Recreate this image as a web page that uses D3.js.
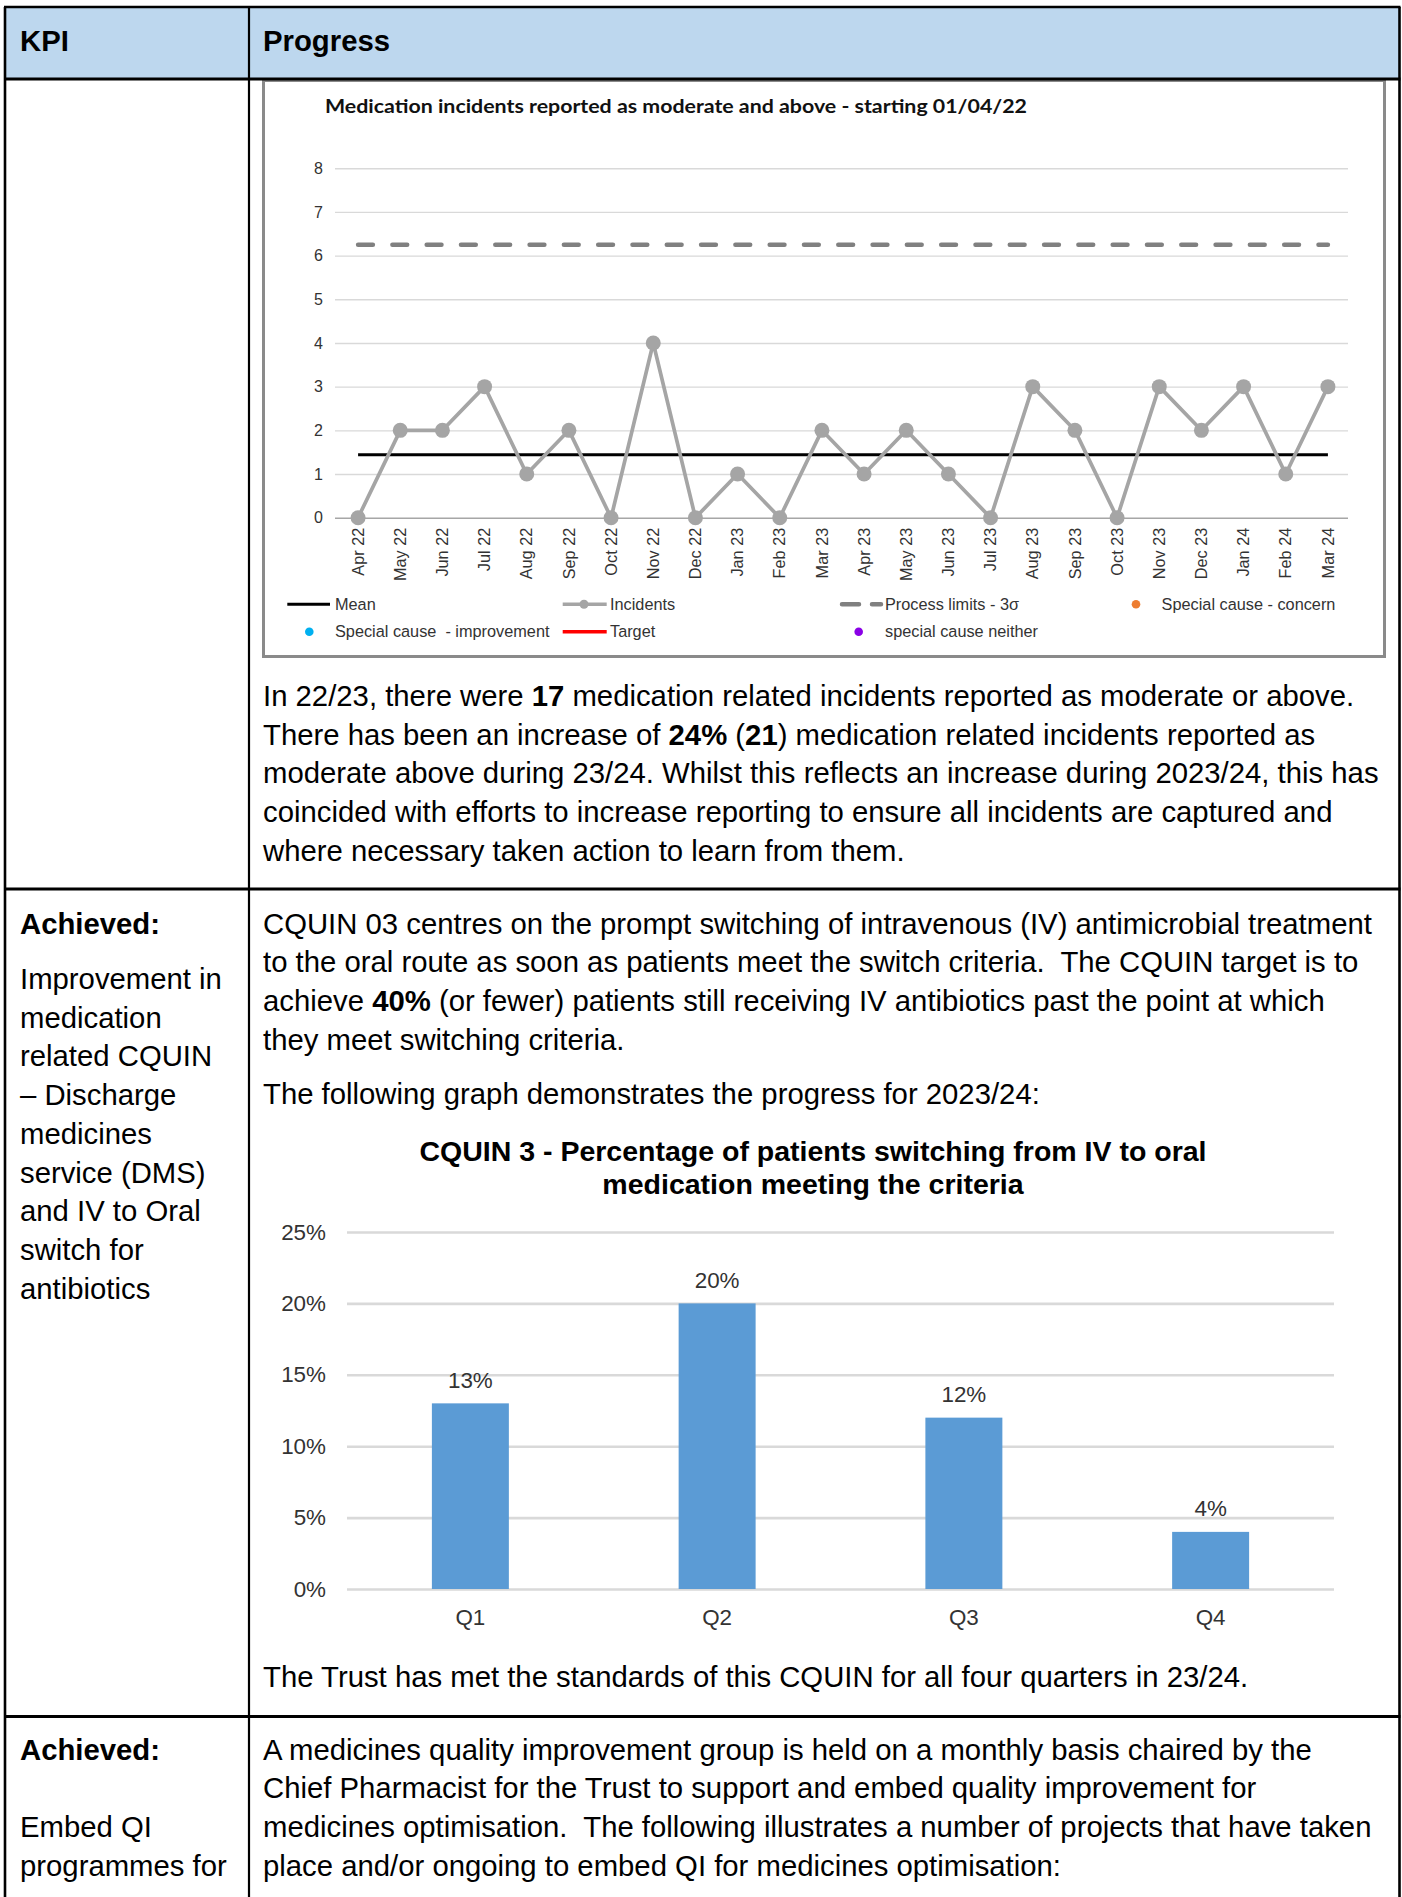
<!DOCTYPE html>
<html>
<head>
<meta charset="utf-8">
<script src="https://cdn.jsdelivr.net/npm/d3@7"></script>
<style>
  html, body { margin: 0; padding: 0; background: #ffffff; }
  svg { display: block; }
  text { font-family: "Liberation Sans", Arial, sans-serif; white-space: pre; }
</style>
</head>
<body>
<svg id="page" width="1402" height="1897"></svg>
<script>
// ---- Medication incidents reported as moderate and above (monthly) ----
const months = ["Apr 22","May 22","Jun 22","Jul 22","Aug 22","Sep 22","Oct 22","Nov 22","Dec 22",
                "Jan 23","Feb 23","Mar 23","Apr 23","May 23","Jun 23","Jul 23","Aug 23","Sep 23",
                "Oct 23","Nov 23","Dec 23","Jan 24","Feb 24","Mar 24"];
const incidents = [0,2,2,3,1,2,0,4,0,1,0,2,1,2,1,0,3,2,0,3,2,3,1,3];
const incidentsMean = 1.44;
const upperProcessLimit = 6.25;
const incidentTicks = [0,1,2,3,4,5,6,7,8];

// ---- CQUIN 03: patients still on IV past switch point (quarterly) ----
const quarters = ["Q1","Q2","Q3","Q4"];
const ivStillPct = [0.13, 0.20, 0.12, 0.04];
const pctTicks = [0, 0.05, 0.10, 0.15, 0.20, 0.25];

const svg = d3.select("#page");
const BODY = 29.3;      // body copy size
const LEAD = 38.7;      // body line spacing

// ---------------------------------------------------------------- table frame
const T = { left: 5, right: 1399.5, top: 7, head: 79, row1: 889, row2: 1716.5, div: 249, bottom: 1897 };

svg.append("rect").attr("x", T.left).attr("y", T.top)
  .attr("width", T.right - T.left).attr("height", T.head - T.top).attr("fill", "#bdd7ee");

function hline(y, w) {
  svg.append("line").attr("x1", T.left - 1).attr("x2", T.right + 1).attr("y1", y).attr("y2", y)
    .attr("stroke", "#000").attr("stroke-width", w);
}
function vline(x, w) {
  svg.append("line").attr("x1", x).attr("x2", x).attr("y1", T.top).attr("y2", T.bottom + 2)
    .attr("stroke", "#000").attr("stroke-width", w);
}

// text helper: each line is a list of [string, isBold] runs
function block(x, y0, lines, opts = {}) {
  const size = opts.size || BODY, lead = opts.lead || LEAD;
  lines.forEach((runs, i) => {
    const t = svg.append("text").attr("x", x).attr("y", y0 + i * lead)
      .attr("xml:space", "preserve")
      .style("font-size", size + "px").attr("fill", "#000");
    (Array.isArray(runs) ? runs : [[runs, false]]).forEach(([s, b]) => {
      t.append("tspan").text(s).style("font-weight", b ? "bold" : "normal");
    });
  });
}

// header
block(20, 51, [[["KPI", true]]]);
block(263, 51, [[["Progress", true]]]);

// row 1 text
block(263, 706, [
  [["In 22/23, there were ", false], ["17", true], [" medication related incidents reported as moderate or above.", false]],
  [["There has been an increase of ", false], ["24%", true], [" (", false], ["21", true], [") medication related incidents reported as", false]],
  "moderate above during 23/24. Whilst this reflects an increase during 2023/24, this has",
  "coincided with efforts to increase reporting to ensure all incidents are captured and",
  "where necessary taken action to learn from them."
]);

// row 2 text
block(20, 933.5, [[["Achieved:", true]]]);
block(20, 989, ["Improvement in", "medication", "related CQUIN", "\u2013 Discharge", "medicines",
                "service (DMS)", "and IV to Oral", "switch for", "antibiotics"]);
block(263, 933.5, [
  "CQUIN 03 centres on the prompt switching of intravenous (IV) antimicrobial treatment",
  "to the oral route as soon as patients meet the switch criteria.  The CQUIN target is to",
  [["achieve ", false], ["40%", true], [" (or fewer) patients still receiving IV antibiotics past the point at which", false]],
  "they meet switching criteria."
]);
block(263, 1104, ["The following graph demonstrates the progress for 2023/24:"]);
block(263, 1687, ["The Trust has met the standards of this CQUIN for all four quarters in 23/24."]);

// row 3 text
block(20, 1759.5, [[["Achieved:", true]]]);
block(20, 1837, ["Embed QI", "programmes for"]);
block(263, 1759.5, [
  "A medicines quality improvement group is held on a monthly basis chaired by the",
  "Chief Pharmacist for the Trust to support and embed quality improvement for",
  "medicines optimisation.  The following illustrates a number of projects that have taken",
  "place and/or ongoing to embed QI for medicines optimisation:"
]);

// ---------------------------------------------------------------- chart 1: incidents run chart
svg.append("rect").attr("x", 263.5).attr("y", 80.5).attr("width", 1121).attr("height", 576)
  .attr("fill", "#fff").attr("stroke", "#8a8a8a").attr("stroke-width", 3);

svg.append("text").attr("x", 325).attr("y", 113.3)
  .attr("textLength", 702).attr("lengthAdjust", "spacingAndGlyphs")
  .style("font-family", "Lato, 'Open Sans', sans-serif").style("font-weight", "bold")
  .style("font-size", "19.5px").attr("fill", "#111")
  .text("Medication incidents reported as moderate and above - starting 01/04/22");

const P1 = { left: 335, right: 1348 };
const x1 = d3.scaleBand().domain(months).range([337, 1349]);
const cx1 = m => x1(m) + x1.bandwidth() / 2;
const y1 = d3.scaleLinear().domain([0, 8]).range([517.7, 168.2]);

const g1 = svg.append("g");
const yAxis1 = g1.append("g").attr("transform", `translate(${P1.left},0)`)
  .call(d3.axisLeft(y1).tickValues(incidentTicks).tickFormat(d3.format("d"))
    .tickSize(-(P1.right - P1.left)).tickPadding(12));
yAxis1.select(".domain").remove();
yAxis1.selectAll(".tick line").attr("stroke", "#d9d9d9").attr("stroke-width", 1.4);
yAxis1.selectAll(".tick").filter(d => d === 0).select("line").attr("stroke", "#a6a6a6");
yAxis1.selectAll(".tick text").style("font-size", "16px").attr("fill", "#333")
  .style("font-family", "'Liberation Sans', Arial, sans-serif");

const xAxis1 = g1.append("g").attr("transform", "translate(0,527.7)")
  .call(d3.axisBottom(x1).tickSize(0).tickPadding(0));
xAxis1.select(".domain").remove();
xAxis1.selectAll(".tick text")
  .attr("transform", "rotate(-90)").attr("x", 0).attr("y", 0).attr("dy", "0.35em")
  .style("text-anchor", "end").style("font-size", "16.3px").attr("fill", "#333")
  .style("font-family", "'Liberation Sans', Arial, sans-serif");

// upper process limit (dashed)
g1.append("line")
  .attr("x1", cx1(months[0])).attr("x2", cx1(months[months.length - 1]))
  .attr("y1", y1(upperProcessLimit)).attr("y2", y1(upperProcessLimit))
  .attr("stroke", "#808080").attr("stroke-width", 4.5).attr("stroke-linecap", "round")
  .attr("stroke-dasharray", "14.8,19.5");

// mean
g1.append("line")
  .attr("x1", cx1(months[0])).attr("x2", cx1(months[months.length - 1]))
  .attr("y1", y1(incidentsMean)).attr("y2", y1(incidentsMean))
  .attr("stroke", "#000").attr("stroke-width", 3);

// incidents series
const pts = months.map((m, i) => ({ m, v: incidents[i] }));
g1.append("path").datum(pts)
  .attr("d", d3.line().x(d => cx1(d.m)).y(d => y1(d.v)))
  .attr("fill", "none").attr("stroke", "#a5a5a5").attr("stroke-width", 3.7).attr("stroke-linejoin", "round");
g1.selectAll("circle.pt").data(pts).join("circle").attr("class", "pt")
  .attr("cx", d => cx1(d.m)).attr("cy", d => y1(d.v)).attr("r", 7.5).attr("fill", "#a5a5a5");

// legend
const lg = svg.append("g").style("font-size", "16.3px");
const r1 = 604.3, r2 = 631.7;
function legText(x, y, s) {
  lg.append("text").attr("x", x).attr("y", y).attr("dy", "0.35em").attr("xml:space", "preserve")
    .attr("fill", "#333").text(s);
}
lg.append("line").attr("x1", 287.3).attr("x2", 330).attr("y1", r1).attr("y2", r1).attr("stroke", "#000").attr("stroke-width", 3);
legText(335, r1, "Mean");
lg.append("line").attr("x1", 562.7).attr("x2", 606.7).attr("y1", r1).attr("y2", r1).attr("stroke", "#a5a5a5").attr("stroke-width", 3.5);
lg.append("circle").attr("cx", 584).attr("cy", r1).attr("r", 4.5).attr("fill", "#a5a5a5");
legText(610, r1, "Incidents");
lg.append("line").attr("x1", 842).attr("x2", 881).attr("y1", r1).attr("y2", r1).attr("stroke", "#808080")
  .attr("stroke-width", 4.5).attr("stroke-linecap", "round").attr("stroke-dasharray", "17,13");
legText(885, r1, "Process limits - 3\u03c3");
lg.append("circle").attr("cx", 1136).attr("cy", r1).attr("r", 4.3).attr("fill", "#ed7d31");
legText(1161.6, r1, "Special cause - concern");
lg.append("circle").attr("cx", 309.3).attr("cy", r2).attr("r", 4.3).attr("fill", "#00b0f0");
legText(335, r2, "Special cause  - improvement");
lg.append("line").attr("x1", 562.7).attr("x2", 606.7).attr("y1", r2).attr("y2", r2).attr("stroke", "#ff0000").attr("stroke-width", 3.5);
legText(610, r2, "Target");
lg.append("circle").attr("cx", 858.7).attr("cy", r2).attr("r", 4.3).attr("fill", "#8a00e6");
legText(885, r2, "special cause neither");

// ---------------------------------------------------------------- chart 2: CQUIN 3 bars
svg.append("text").attr("x", 813).attr("y", 1161).attr("text-anchor", "middle")
  .style("font-size", "28.5px").style("font-weight", "bold").attr("fill", "#000")
  .text("CQUIN 3 - Percentage of patients switching from IV to oral");
svg.append("text").attr("x", 813).attr("y", 1194).attr("text-anchor", "middle")
  .style("font-size", "28.5px").style("font-weight", "bold").attr("fill", "#000")
  .text("medication meeting the criteria");

const P2 = { left: 347, right: 1334 };
const x2 = d3.scaleBand().domain(quarters).range([P2.left, P2.right]);
const y2 = d3.scaleLinear().domain([0, 0.25]).range([1589, 1232]);
const pctFmt = d3.format(".0%");

const g2 = svg.append("g");
const yAxis2 = g2.append("g").attr("transform", `translate(${P2.left},0)`)
  .call(d3.axisLeft(y2).tickValues(pctTicks).tickFormat(pctFmt)
    .tickSize(-(P2.right - P2.left)).tickPadding(21));
yAxis2.select(".domain").remove();
yAxis2.selectAll(".tick line").attr("stroke", "#d9d9d9").attr("stroke-width", 2.6);
yAxis2.selectAll(".tick text").style("font-size", "22.4px").attr("fill", "#333")
  .style("font-family", "'Liberation Sans', Arial, sans-serif");

const bw = x2.bandwidth() * 0.312;
const bars = quarters.map((q, i) => ({ q, v: ivStillPct[i] }));
g2.selectAll("rect.bar").data(bars).join("rect").attr("class", "bar")
  .attr("x", d => x2(d.q) + x2.bandwidth() / 2 - bw / 2)
  .attr("y", d => y2(d.v)).attr("width", bw).attr("height", d => y2(0) - y2(d.v))
  .attr("fill", "#5b9bd5");
g2.selectAll("text.val").data(bars).join("text").attr("class", "val")
  .attr("x", d => x2(d.q) + x2.bandwidth() / 2).attr("y", d => y2(d.v) - 15.5)
  .attr("text-anchor", "middle").style("font-size", "22.4px").attr("fill", "#333")
  .text(d => pctFmt(d.v));

const xAxis2 = g2.append("g").attr("transform", "translate(0,1589)")
  .call(d3.axisBottom(x2).tickSize(0).tickPadding(0));
xAxis2.select(".domain").remove();
xAxis2.selectAll(".tick text").attr("y", 35.7).attr("dy", 0)
  .style("font-size", "22.4px").attr("fill", "#333")
  .style("font-family", "'Liberation Sans', Arial, sans-serif");

// ---------------------------------------------------------------- table rules on top
vline(T.div, 2.2);
vline(T.left, 2.6);
vline(T.right, 2.6);
hline(T.top, 2.6);
hline(T.head, 3);
hline(T.row1, 3);
hline(T.row2, 3);
</script>
</body>
</html>
